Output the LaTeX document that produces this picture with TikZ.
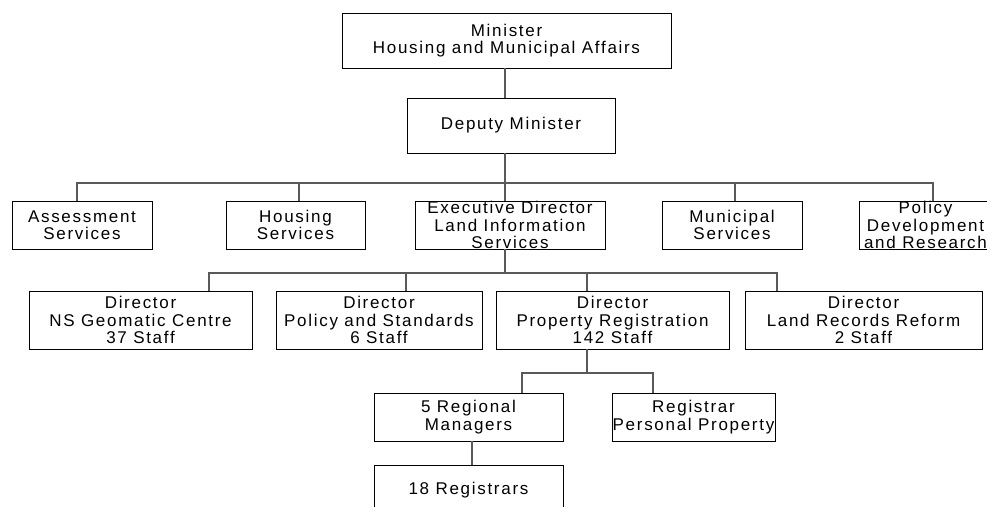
\documentclass[tikz,border=0pt]{standalone}
\usepackage{fontspec}
\setmainfont[LetterSpace=10]{Liberation Sans}
\usetikzlibrary{positioning}

\tikzset{
    orgbox/.style={draw, rectangle, line width=0.8pt, align=center, inner sep=0pt, font=\fontsize{17}{17.5}\selectfont},
    conn/.style={draw=black!65, line width=1.1pt},
}

\begin{document}
\begin{tikzpicture}[x=1pt, y=-1pt]
    \useasboundingbox (0,0) rectangle (987,506);
    \clip (0,0) rectangle (987,506);

    % top of the chart
    \node[orgbox, minimum width=329pt, minimum height=55pt] (minister) at (506.5,40.5) {Minister\\Housing and Municipal Affairs};
    \node[orgbox, minimum width=208pt, minimum height=55pt] (deputy) at (511,125.5) {Deputy Minister};

    % divisions
    \node[orgbox, minimum width=140pt, minimum height=48pt] (assess) at (82,225) {Assessment\\Services};
    \node[orgbox, minimum width=139pt, minimum height=48pt] (housing) at (295.5,225) {Housing\\Services};
    \node[orgbox, minimum width=190pt, minimum height=48pt] (exec) at (510,225) {Executive Director\\Land Information\\Services};
    \node[orgbox, minimum width=133pt, minimum height=48pt] (policy) at (925.5,225) {Policy\\Development\\and Research};
    \node[orgbox, minimum width=140pt, minimum height=48pt] (munic) at (732,225) {Municipal\\Services};

    % directors
    \node[orgbox, minimum width=223pt, minimum height=58pt] (geo) at (140.5,320) {Director\\NS Geomatic Centre\\37 Staff};
    \node[orgbox, minimum width=206pt, minimum height=58pt] (polstd) at (379,320) {Director\\Policy and Standards\\6 Staff};
    \node[orgbox, minimum width=233pt, minimum height=58pt] (prop) at (612.5,320) {Director\\Property Registration\\142 Staff};
    \node[orgbox, minimum width=237pt, minimum height=58pt] (land) at (863.5,320) {Director\\Land Records Reform\\2 Staff};

    % registry
    \node[orgbox, minimum width=189pt, minimum height=48pt] (regional) at (468.5,417) {5 Regional\\Managers};
    \node[orgbox, minimum width=163pt, minimum height=48pt] (personal) at (693.5,417) {Registrar\\Personal Property};
    \node[orgbox, minimum width=189pt, text height=29pt, text depth=32pt, anchor=north] (reg18) at (468.5,465) {18 Registrars};

    % bus lines
    \coordinate (bus1) at (505,183);
    \coordinate (bus2) at (505,273);
    \coordinate (bus3) at (587,373);

    \draw[conn] ([xshift=-1.5pt]minister.south) -- ([xshift=-6pt]deputy.north);
    \draw[conn] ([xshift=-6pt]deputy.south) -- (bus1);
    \draw[conn] ([xshift=-5pt]assess.north) |- (bus1);
    \draw[conn] ([xshift=3.5pt]housing.north) |- (bus1);
    \draw[conn] ([xshift=-5pt]exec.north) -- (bus1);
    \draw[conn] ([xshift=3pt]munic.north) |- (bus1);
    \draw[conn] ([xshift=7.5pt]policy.north) |- (bus1);

    \draw[conn] ([xshift=-5pt]exec.south) -- (bus2);
    \draw[conn] ([xshift=68.5pt]geo.north) |- (bus2);
    \draw[conn] ([xshift=27pt]polstd.north) |- (bus2);
    \draw[conn] ([xshift=-25.5pt]prop.north) |- (bus2);
    \draw[conn] ([xshift=-86.5pt]land.north) |- (bus2);

    \draw[conn] ([xshift=-25.5pt]prop.south) -- (bus3);
    \draw[conn] ([xshift=53.5pt]regional.north) |- (bus3);
    \draw[conn] ([xshift=-40.5pt]personal.north) |- (bus3);
    \draw[conn] ([xshift=3.5pt]regional.south) -- ([xshift=3.5pt]reg18.north);
\end{tikzpicture}
\end{document}
